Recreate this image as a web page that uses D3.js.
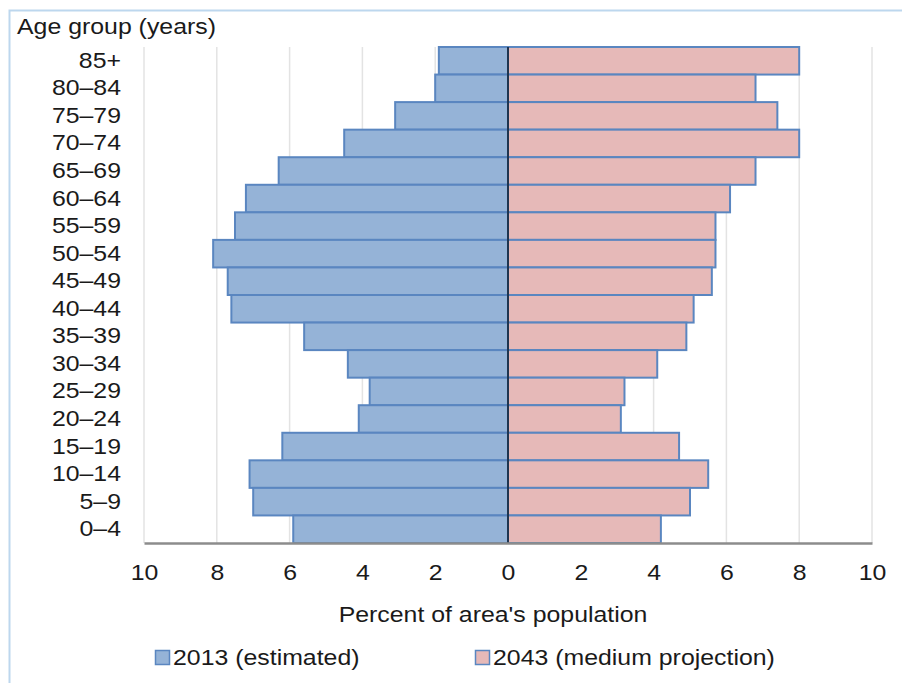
<!DOCTYPE html>
<html>
<head>
<meta charset="utf-8">
<script src="https://cdn.jsdelivr.net/npm/d3@7/dist/d3.min.js"></script>
<style>
  html, body { margin: 0; padding: 0; background: #fff; }
  svg { display: block; font-family: "Liberation Sans", Arial, sans-serif; }
</style>
</head>
<body>
<svg id="chart" width="902" height="683"></svg>
<script>
// Age groups, oldest first (top of the pyramid)
const ageGroups = ["85+", "80–84", "75–79", "70–74", "65–69", "60–64", "55–59", "50–54",
  "45–49", "40–44", "35–39", "30–34", "25–29", "20–24", "15–19", "10–14", "5–9", "0–4"];

// Percent of area's population in each age group
const pct2013 = [1.9, 2.0, 3.1, 4.5, 6.3, 7.2, 7.5, 8.1, 7.7, 7.6, 5.6, 4.4, 3.8, 4.1, 6.2, 7.1, 7.0, 5.9];
const pct2043 = [8.0, 6.8, 7.4, 8.0, 6.8, 6.1, 5.7, 5.7, 5.6, 5.1, 4.9, 4.1, 3.2, 3.1, 4.7, 5.5, 5.0, 4.2];

const tickValues = [-10, -8, -6, -4, -2, 0, 2, 4, 6, 8, 10];
const seriesNames = ["2013 (estimated)", "2043 (medium projection)"];

const svg = d3.select("#chart");
const W = 902, H = 683;
const m = { left: 144, right: 872, top: 47, bottom: 543 };

const FS = 22;        // label font size
const SX = 1.13;      // slightly wide lettering
const textColor = "#1a1a1a";
const fill2013 = "#95b3d7", fill2043 = "#e6b9b8", barStroke = "#5a86c0";

// Place a horizontally widened text at (x, y)
function wideText(parent, x, y, str, anchor) {
  return parent.append("text")
    .attr("transform", `translate(${x},${y}) scale(${SX},1)`)
    .attr("text-anchor", anchor || "start")
    .attr("font-size", FS).attr("fill", textColor).text(str);
}

// Outer frame: light blue rule along the top and left
svg.append("path")
  .attr("d", `M9.5,${H} V10.5 H${W}`)
  .attr("fill", "none").attr("stroke", "#bdd7ee").attr("stroke-width", 2);

const x = d3.scaleLinear().domain([-10, 10]).range([m.left, m.right]);
const y = d3.scaleBand().domain(ageGroups).range([m.top, m.bottom]).padding(0);

// Vertical gridlines
svg.append("g").selectAll("line")
  .data(tickValues.filter(v => v !== 0))
  .join("line")
  .attr("x1", d => x(d)).attr("x2", d => x(d))
  .attr("y1", m.top).attr("y2", m.bottom)
  .attr("stroke", "#e3e3e3").attr("stroke-width", 1.5);

// 2013 bars extend left of zero
svg.append("g").selectAll("rect")
  .data(ageGroups.map((g, i) => ({ g, v: pct2013[i] })))
  .join("rect")
  .attr("x", d => x(-d.v)).attr("width", d => x(0) - x(-d.v))
  .attr("y", d => y(d.g)).attr("height", y.bandwidth())
  .attr("fill", fill2013).attr("stroke", barStroke).attr("stroke-width", 2);

// 2043 bars extend right of zero
svg.append("g").selectAll("rect")
  .data(ageGroups.map((g, i) => ({ g, v: pct2043[i] })))
  .join("rect")
  .attr("x", x(0)).attr("width", d => x(d.v) - x(0))
  .attr("y", d => y(d.g)).attr("height", y.bandwidth())
  .attr("fill", fill2043).attr("stroke", barStroke).attr("stroke-width", 2);

// Zero line
svg.append("line")
  .attr("x1", x(0)).attr("x2", x(0)).attr("y1", m.top).attr("y2", m.bottom)
  .attr("stroke", "#1f3550").attr("stroke-width", 2);

// Bottom axis: baseline plus absolute-value tick labels
const xAxis = d3.axisBottom(x).tickValues(tickValues).tickSize(0).tickPadding(21)
  .tickFormat(d => Math.abs(d));
const gx = svg.append("g").attr("transform", `translate(0,${m.bottom})`).call(xAxis);
gx.select(".domain").attr("stroke", "#8c8c8c").attr("stroke-width", 2.5);
gx.selectAll("text").attr("font-size", FS).attr("fill", textColor)
  .attr("font-family", "Liberation Sans, Arial, sans-serif")
  .attr("transform", `scale(${SX},1)`);

// Age group labels
const yAxis = d3.axisLeft(y).tickSize(0).tickPadding(0);
const gy = svg.append("g").attr("transform", `translate(121,0)`).call(yAxis);
gy.select(".domain").remove();
gy.selectAll("text").attr("font-size", FS).attr("fill", textColor)
  .attr("font-family", "Liberation Sans, Arial, sans-serif")
  .attr("transform", `scale(${SX},1)`);

// Titles
wideText(svg, 17, 34, "Age group (years)");
wideText(svg, 493, 622, "Percent of area's population", "middle");

// Legend
const legend = svg.append("g");
const legendItems = [
  { name: seriesNames[0], fill: fill2013, x: 155.5 },
  { name: seriesNames[1], fill: fill2043, x: 475.5 }
];
legendItems.forEach(it => {
  legend.append("rect").attr("x", it.x).attr("y", 650.5).attr("width", 14).attr("height", 14)
    .attr("fill", it.fill).attr("stroke", barStroke).attr("stroke-width", 1.5);
  wideText(legend, it.x + 17.5, 665, it.name);
});
</script>
</body>
</html>
